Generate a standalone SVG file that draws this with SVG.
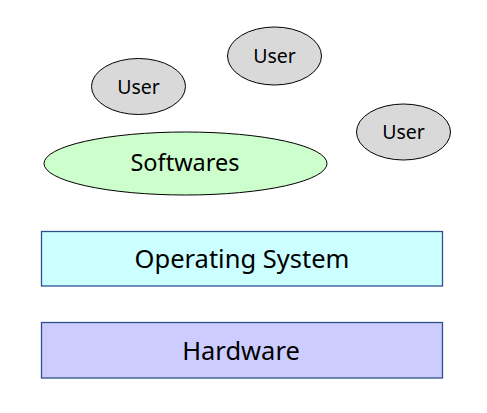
<svg xmlns="http://www.w3.org/2000/svg" width="487" height="413" viewBox="0 0 487 413">
<style>
.user{fill:#d9d9d9;stroke:#000;stroke-width:1}
.lbl{font-family:"Noto Sans","DejaVu Sans",sans-serif;fill:#000;text-anchor:middle;dominant-baseline:central}
.box{stroke:#2f4f8f;stroke-width:1.3}
</style>
<rect width="487" height="413" fill="#fff"/>
<g id="user1"><ellipse class="user" cx="138.5" cy="86.5" rx="47" ry="28"/><text class="lbl" x="138.5" y="86" font-size="19.5">User</text></g>
<g id="user2"><ellipse class="user" cx="274.5" cy="56" rx="47" ry="29"/><text class="lbl" x="274.5" y="55.5" font-size="19.5">User</text></g>
<g id="user3"><ellipse class="user" cx="403.5" cy="132" rx="47" ry="28"/><text class="lbl" x="403.5" y="131.5" font-size="19.5">User</text></g>
<g id="softwares"><ellipse cx="185.5" cy="163.5" rx="141.5" ry="31.5" fill="#ccffcc" stroke="#000" stroke-width="1"/><text class="lbl" x="185" y="162" font-size="23.5">Softwares</text></g>
<g id="os"><rect class="box" x="41.5" y="231.5" width="401" height="54.5" fill="#ccffff"/><text class="lbl" x="242" y="258" font-size="25.5">Operating System</text></g>
<g id="hardware"><rect class="box" x="41.5" y="322.5" width="401" height="55.5" fill="#ccccff"/><text class="lbl" x="241" y="350" font-size="25.5">Hardware</text></g>
<g id="connectors"></g>
</svg>
